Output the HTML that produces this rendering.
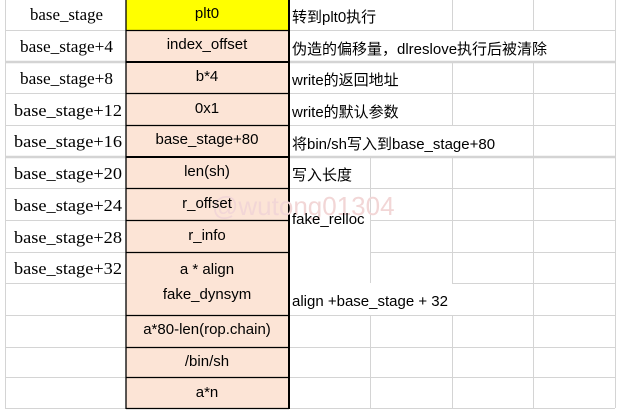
<!DOCTYPE html>
<html><head><meta charset="utf-8"><style>
html,body{margin:0;padding:0;background:#fff;width:621px;height:417px;overflow:hidden}
svg{display:block}
.s{font-family:"Liberation Serif","Noto Serif CJK SC",serif;font-size:17px;fill:#000}
.m{font-family:"Liberation Sans","Noto Sans CJK SC",sans-serif;font-size:15px;fill:#000}
</style></head><body>
<svg width="621" height="417" viewBox="0 0 621 417" xmlns="http://www.w3.org/2000/svg">
<g stroke="#d4d4d4" stroke-width="1" fill="none">
<line x1="5.5" y1="0" x2="5.5" y2="408"/>
<line x1="5" y1="30.5" x2="126" y2="30.5"/>
<line x1="5" y1="62" x2="126" y2="62" stroke-width="2.5"/>
<line x1="5" y1="93.5" x2="126" y2="93.5"/>
<line x1="5" y1="125.5" x2="126" y2="125.5"/>
<line x1="5" y1="157" x2="126" y2="157" stroke-width="2.5"/>
<line x1="5" y1="188.5" x2="126" y2="188.5"/>
<line x1="5" y1="220.5" x2="126" y2="220.5"/>
<line x1="5" y1="252.5" x2="126" y2="252.5"/>
<line x1="5" y1="283.5" x2="126" y2="283.5"/>
<line x1="5" y1="315.5" x2="126" y2="315.5"/>
<line x1="5" y1="347.5" x2="126" y2="347.5"/>
<line x1="5" y1="377.5" x2="126" y2="377.5"/>
<line x1="5" y1="408.5" x2="615" y2="408.5"/>
<line x1="289" y1="30.5" x2="615" y2="30.5"/>
<line x1="289" y1="62" x2="615" y2="62" stroke-width="2.5"/>
<line x1="289" y1="93.5" x2="615" y2="93.5"/>
<line x1="289" y1="125.5" x2="615" y2="125.5"/>
<line x1="289" y1="157" x2="615" y2="157" stroke-width="2.5"/>
<line x1="289" y1="188.5" x2="615" y2="188.5"/>
<line x1="370" y1="220.5" x2="615" y2="220.5"/>
<line x1="370" y1="252.5" x2="615" y2="252.5"/>
<line x1="452" y1="283.5" x2="615" y2="283.5"/>
<line x1="289" y1="315.5" x2="615" y2="315.5"/>
<line x1="289" y1="347.5" x2="615" y2="347.5"/>
<line x1="289" y1="377.5" x2="615" y2="377.5"/>
<line x1="452.5" y1="0" x2="452.5" y2="30"/>
<line x1="533.5" y1="0" x2="533.5" y2="30"/>
<line x1="452.5" y1="62" x2="452.5" y2="125"/>
<line x1="533.5" y1="62" x2="533.5" y2="157"/>
<line x1="370.5" y1="157" x2="370.5" y2="283"/>
<line x1="452.5" y1="157" x2="452.5" y2="283"/>
<line x1="533.5" y1="157" x2="533.5" y2="408"/>
<line x1="370.5" y1="315" x2="370.5" y2="408"/>
<line x1="452.5" y1="315" x2="452.5" y2="408"/>
<line x1="615.5" y1="0" x2="615.5" y2="408"/>
</g>
<rect x="126" y="0" width="163" height="30" fill="#ffff00"/>
<rect x="126" y="30" width="163" height="378" fill="#fce4d6"/>
<g stroke="#000" stroke-width="1.3" fill="none">
<line x1="126" y1="0" x2="126" y2="409"/>
<line x1="289" y1="0" x2="289" y2="409" stroke-width="2"/>
<line x1="126" y1="30.5" x2="289" y2="30.5"/>
<line x1="126" y1="62" x2="289" y2="62" stroke-width="2"/>
<line x1="126" y1="93.5" x2="289" y2="93.5"/>
<line x1="126" y1="125.5" x2="289" y2="125.5"/>
<line x1="126" y1="157" x2="289" y2="157" stroke-width="2"/>
<line x1="126" y1="188.5" x2="289" y2="188.5"/>
<line x1="126" y1="220.5" x2="289" y2="220.5"/>
<line x1="126" y1="252.5" x2="289" y2="252.5"/>
<line x1="126" y1="315.5" x2="289" y2="315.5"/>
<line x1="126" y1="347.5" x2="289" y2="347.5"/>
<line x1="126" y1="377.5" x2="289" y2="377.5"/>
<line x1="126" y1="408.5" x2="289" y2="408.5"/>
</g>
<text x="212" y="215" font-family="Liberation Sans, sans-serif" font-size="26" fill="#f2d6d6">@wutong01304</text>
<g class="s">
<text x="30" y="20" textLength="73" lengthAdjust="spacingAndGlyphs">base_stage</text>
<text x="20" y="52" textLength="93" lengthAdjust="spacingAndGlyphs">base_stage+4</text>
<text x="20" y="84" textLength="93" lengthAdjust="spacingAndGlyphs">base_stage+8</text>
<text x="14" y="116" textLength="108" lengthAdjust="spacingAndGlyphs">base_stage+12</text>
<text x="14" y="147" textLength="108" lengthAdjust="spacingAndGlyphs">base_stage+16</text>
<text x="14" y="179" textLength="108" lengthAdjust="spacingAndGlyphs">base_stage+20</text>
<text x="14" y="211" textLength="108" lengthAdjust="spacingAndGlyphs">base_stage+24</text>
<text x="14" y="243" textLength="108" lengthAdjust="spacingAndGlyphs">base_stage+28</text>
<text x="14" y="274" textLength="108" lengthAdjust="spacingAndGlyphs">base_stage+32</text>
</g>
<g class="m" text-anchor="middle">
<text x="207" y="18">plt0</text>
<text x="207" y="49">index_offset</text>
<text x="207" y="81">b*4</text>
<text x="207" y="113">0x1</text>
<text x="207" y="144">base_stage+80</text>
<text x="207" y="176">len(sh)</text>
<text x="207" y="208">r_offset</text>
<text x="207" y="240">r_info</text>
<text x="207" y="274">a * align</text>
<text x="207" y="299">fake_dynsym</text>
<text x="207" y="334">a*80-len(rop.chain)</text>
<text x="207" y="366">/bin/sh</text>
<text x="207" y="397">a*n</text>
</g>
<g class="m">
<text x="292" y="22">转到plt0执行</text>
<text x="292" y="54">伪造的偏移量，dlreslove执行后被清除</text>
<text x="292" y="85">write的返回地址</text>
<text x="292" y="117">write的默认参数</text>
<text x="292" y="149">将bin/sh写入到base_stage+80</text>
<text x="292" y="180">写入长度</text>
<text x="292" y="224">fake_relloc</text>
<text x="292" y="306">align +base_stage + 32</text>
</g>
</svg>
</body></html>
